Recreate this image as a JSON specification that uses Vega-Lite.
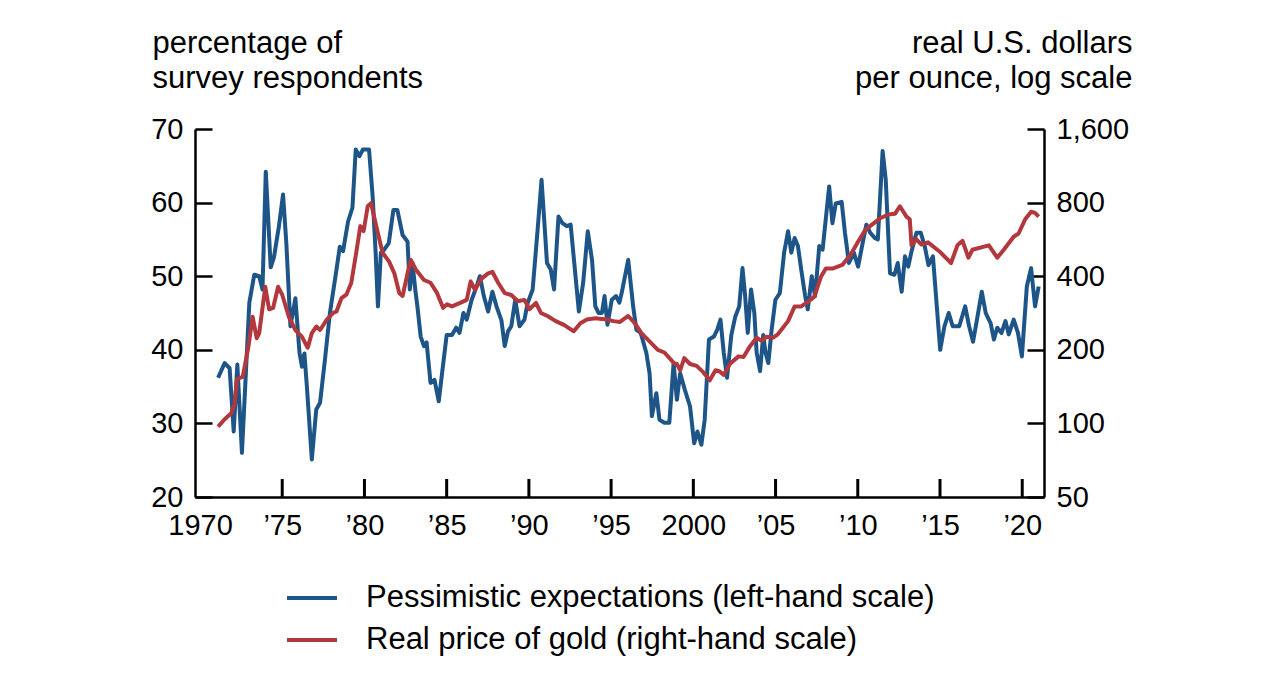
{
  "$schema": "https://vega.github.io/schema/vega-lite/v6.json",
  "width": 849,
  "height": 368,
  "autosize": {"type": "none"},
  "padding": {"left": 195, "top": 129, "right": 217, "bottom": 194},
  "background": "white",
  "config": {
    "font": "Liberation Sans",
    "view": {"stroke": null},
    "axis": {
      "grid": false,
      "domainColor": "black",
      "domainWidth": 2.5,
      "ticks": true,
      "tickColor": "black",
      "tickWidth": 2.5,
      "tickSize": -17,
      "labelFontSize": 29,
      "labelColor": "black",
      "labelFont": "Liberation Sans",
      "titleFont": "Liberation Sans",
      "titleFontSize": 31,
      "titleFontWeight": "normal",
      "titleColor": "black",
      "labelFlush": false,
      "labelOverlap": false
    },
    "legend": {
      "labelFont": "Liberation Sans",
      "labelFontSize": 31,
      "labelColor": "black",
      "labelLimit": 0,
      "symbolType": "stroke",
      "symbolSize": 2500,
      "symbolStrokeWidth": 4,
      "labelOffset": 27,
      "rowPadding": -2,
      "padding": 0
    }
  },
  "datasets": {
    "ticks": [
      {"tick": 1975}, {"tick": 1980}, {"tick": 1985}, {"tick": 1990}, {"tick": 1995},
      {"tick": 2000}, {"tick": 2005}, {"tick": 2010}, {"tick": 2015}, {"tick": 2020}
    ],
    "pessimism": [
      {"year": 1971.1, "pct": 36.2}, {"year": 1971.5, "pct": 38.2}, {"year": 1971.8, "pct": 37.5}, {"year": 1972.05, "pct": 28.9},
      {"year": 1972.27, "pct": 38}, {"year": 1972.55, "pct": 26}, {"year": 1973.0, "pct": 46.4}, {"year": 1973.3, "pct": 50.2},
      {"year": 1973.6, "pct": 50}, {"year": 1973.8, "pct": 48.2}, {"year": 1974.0, "pct": 64.2}, {"year": 1974.3, "pct": 51.2},
      {"year": 1974.5, "pct": 52.6}, {"year": 1974.8, "pct": 56.8}, {"year": 1975.05, "pct": 61.1}, {"year": 1975.25, "pct": 54.5},
      {"year": 1975.5, "pct": 43.2}, {"year": 1975.8, "pct": 47}, {"year": 1976.05, "pct": 39.6}, {"year": 1976.2, "pct": 37.7},
      {"year": 1976.35, "pct": 39.5}, {"year": 1976.5, "pct": 35}, {"year": 1976.8, "pct": 25.1}, {"year": 1977.07, "pct": 31.9},
      {"year": 1977.3, "pct": 32.8}, {"year": 1977.6, "pct": 38.7}, {"year": 1977.9, "pct": 45}, {"year": 1978.3, "pct": 50.9},
      {"year": 1978.5, "pct": 54}, {"year": 1978.7, "pct": 53.4}, {"year": 1979.0, "pct": 57.4}, {"year": 1979.27, "pct": 59.3},
      {"year": 1979.47, "pct": 67.2}, {"year": 1979.7, "pct": 66.3}, {"year": 1979.9, "pct": 67.2}, {"year": 1980.28, "pct": 67.2},
      {"year": 1980.5, "pct": 60.8}, {"year": 1980.68, "pct": 53.2}, {"year": 1980.82, "pct": 45.9}, {"year": 1981.0, "pct": 53.2},
      {"year": 1981.2, "pct": 53.6}, {"year": 1981.48, "pct": 54.5}, {"year": 1981.76, "pct": 59}, {"year": 1982.0, "pct": 59},
      {"year": 1982.32, "pct": 55.6}, {"year": 1982.62, "pct": 54.7}, {"year": 1982.76, "pct": 48.2}, {"year": 1982.92, "pct": 51.8},
      {"year": 1983.1, "pct": 48}, {"year": 1983.22, "pct": 45.9}, {"year": 1983.42, "pct": 41.8}, {"year": 1983.62, "pct": 40.5},
      {"year": 1983.78, "pct": 41}, {"year": 1984.02, "pct": 35.5}, {"year": 1984.26, "pct": 35.9}, {"year": 1984.52, "pct": 33},
      {"year": 1984.72, "pct": 36.8}, {"year": 1985.0, "pct": 42}, {"year": 1985.32, "pct": 42}, {"year": 1985.58, "pct": 43},
      {"year": 1985.78, "pct": 42.3}, {"year": 1986.02, "pct": 45}, {"year": 1986.22, "pct": 44.1}, {"year": 1986.52, "pct": 46.8},
      {"year": 1986.82, "pct": 48.6}, {"year": 1987.02, "pct": 50}, {"year": 1987.26, "pct": 47.3}, {"year": 1987.52, "pct": 45.2},
      {"year": 1987.78, "pct": 47.9}, {"year": 1988.03, "pct": 45.9}, {"year": 1988.33, "pct": 44}, {"year": 1988.53, "pct": 40.5},
      {"year": 1988.73, "pct": 42.5}, {"year": 1988.93, "pct": 43.2}, {"year": 1989.17, "pct": 46.8}, {"year": 1989.43, "pct": 43.2},
      {"year": 1989.73, "pct": 44.1}, {"year": 1989.93, "pct": 46.4}, {"year": 1990.23, "pct": 48.2}, {"year": 1990.53, "pct": 56.3},
      {"year": 1990.77, "pct": 63.1}, {"year": 1990.93, "pct": 57.7}, {"year": 1991.1, "pct": 51.8}, {"year": 1991.33, "pct": 50.9},
      {"year": 1991.53, "pct": 48.2}, {"year": 1991.8, "pct": 58.1}, {"year": 1992.04, "pct": 57.2}, {"year": 1992.3, "pct": 56.8},
      {"year": 1992.54, "pct": 57}, {"year": 1992.78, "pct": 51.3}, {"year": 1993.04, "pct": 45.2}, {"year": 1993.3, "pct": 49.1},
      {"year": 1993.58, "pct": 56.1}, {"year": 1993.84, "pct": 52.2}, {"year": 1994.04, "pct": 45.9}, {"year": 1994.24, "pct": 45},
      {"year": 1994.44, "pct": 45}, {"year": 1994.6, "pct": 47.3}, {"year": 1994.78, "pct": 43.4}, {"year": 1995.04, "pct": 46.8},
      {"year": 1995.3, "pct": 47.3}, {"year": 1995.5, "pct": 46.4}, {"year": 1995.64, "pct": 47.7}, {"year": 1996.04, "pct": 52.2},
      {"year": 1996.34, "pct": 45.9}, {"year": 1996.54, "pct": 42.7}, {"year": 1996.8, "pct": 42.3}, {"year": 1997.14, "pct": 39.6},
      {"year": 1997.34, "pct": 36.8}, {"year": 1997.48, "pct": 31}, {"year": 1997.75, "pct": 34.1}, {"year": 1997.94, "pct": 30.5},
      {"year": 1998.24, "pct": 30.1}, {"year": 1998.54, "pct": 30.1}, {"year": 1998.8, "pct": 38.2}, {"year": 1999.0, "pct": 33.2},
      {"year": 1999.2, "pct": 36.8}, {"year": 1999.48, "pct": 34.6}, {"year": 1999.8, "pct": 32.3}, {"year": 2000.05, "pct": 27.3},
      {"year": 2000.25, "pct": 28.9}, {"year": 2000.49, "pct": 27.1}, {"year": 2000.69, "pct": 30.5}, {"year": 2000.95, "pct": 41.4},
      {"year": 2001.25, "pct": 41.8}, {"year": 2001.45, "pct": 42.7}, {"year": 2001.65, "pct": 44.1}, {"year": 2001.85, "pct": 39.6},
      {"year": 2002.05, "pct": 36.2}, {"year": 2002.31, "pct": 42}, {"year": 2002.55, "pct": 44.5}, {"year": 2002.79, "pct": 45.9},
      {"year": 2002.99, "pct": 51.1}, {"year": 2003.15, "pct": 47.3}, {"year": 2003.31, "pct": 42.3}, {"year": 2003.51, "pct": 48.2},
      {"year": 2003.71, "pct": 45}, {"year": 2003.85, "pct": 39.6}, {"year": 2004.06, "pct": 37.1}, {"year": 2004.25, "pct": 42},
      {"year": 2004.39, "pct": 39.6}, {"year": 2004.56, "pct": 38.2}, {"year": 2004.76, "pct": 42.7}, {"year": 2004.99, "pct": 46.8},
      {"year": 2005.26, "pct": 47.7}, {"year": 2005.52, "pct": 53.2}, {"year": 2005.76, "pct": 56.1}, {"year": 2005.96, "pct": 53.2},
      {"year": 2006.16, "pct": 55.2}, {"year": 2006.36, "pct": 54.1}, {"year": 2006.56, "pct": 50.9}, {"year": 2006.8, "pct": 47.3},
      {"year": 2006.96, "pct": 45.5}, {"year": 2007.2, "pct": 50}, {"year": 2007.4, "pct": 47.3}, {"year": 2007.66, "pct": 54.1},
      {"year": 2007.86, "pct": 53.6}, {"year": 2008.26, "pct": 62.2}, {"year": 2008.46, "pct": 57.2}, {"year": 2008.66, "pct": 59.9},
      {"year": 2009.02, "pct": 60.1}, {"year": 2009.22, "pct": 55.9}, {"year": 2009.46, "pct": 51.8}, {"year": 2009.76, "pct": 53.2},
      {"year": 2010.02, "pct": 51.3}, {"year": 2010.26, "pct": 54.1}, {"year": 2010.52, "pct": 57}, {"year": 2010.76, "pct": 55.9},
      {"year": 2011.03, "pct": 55.2}, {"year": 2011.22, "pct": 55}, {"year": 2011.51, "pct": 67}, {"year": 2011.7, "pct": 63.1},
      {"year": 2011.96, "pct": 50.4}, {"year": 2012.23, "pct": 50.2}, {"year": 2012.43, "pct": 51.8}, {"year": 2012.67, "pct": 47.9},
      {"year": 2012.87, "pct": 52.7}, {"year": 2013.07, "pct": 51.3}, {"year": 2013.27, "pct": 53.4}, {"year": 2013.57, "pct": 55.9},
      {"year": 2013.83, "pct": 55.9}, {"year": 2014.07, "pct": 54.1}, {"year": 2014.3, "pct": 51.5}, {"year": 2014.57, "pct": 52.7},
      {"year": 2015.01, "pct": 40}, {"year": 2015.27, "pct": 43.2}, {"year": 2015.53, "pct": 45}, {"year": 2015.77, "pct": 43.2},
      {"year": 2016.17, "pct": 43.2}, {"year": 2016.53, "pct": 45.9}, {"year": 2016.77, "pct": 43.2}, {"year": 2017.01, "pct": 41.1},
      {"year": 2017.28, "pct": 44.5}, {"year": 2017.54, "pct": 47.9}, {"year": 2017.78, "pct": 45}, {"year": 2018.08, "pct": 43.6},
      {"year": 2018.28, "pct": 41.4}, {"year": 2018.48, "pct": 43}, {"year": 2018.74, "pct": 42.3}, {"year": 2018.98, "pct": 43.9},
      {"year": 2019.18, "pct": 42.1}, {"year": 2019.48, "pct": 44.1}, {"year": 2019.74, "pct": 42.3}, {"year": 2019.98, "pct": 39.1},
      {"year": 2020.28, "pct": 48.6}, {"year": 2020.54, "pct": 51.1}, {"year": 2020.78, "pct": 45.9}, {"year": 2021.0, "pct": 48.6}
    ],
    "gold": [
      {"year": 1971.1, "price": 97}, {"year": 1971.5, "price": 104}, {"year": 1971.9, "price": 110}, {"year": 1972.1, "price": 120},
      {"year": 1972.25, "price": 152}, {"year": 1972.6, "price": 155}, {"year": 1972.95, "price": 207}, {"year": 1973.2, "price": 273},
      {"year": 1973.45, "price": 223}, {"year": 1973.6, "price": 234}, {"year": 1973.97, "price": 362}, {"year": 1974.2, "price": 293},
      {"year": 1974.45, "price": 297}, {"year": 1974.75, "price": 362}, {"year": 1975.0, "price": 336}, {"year": 1975.4, "price": 273},
      {"year": 1975.8, "price": 241}, {"year": 1976.2, "price": 226}, {"year": 1976.55, "price": 204}, {"year": 1976.8, "price": 234},
      {"year": 1977.07, "price": 249}, {"year": 1977.3, "price": 241}, {"year": 1977.7, "price": 265}, {"year": 1978.1, "price": 283},
      {"year": 1978.3, "price": 287}, {"year": 1978.6, "price": 325}, {"year": 1978.9, "price": 336}, {"year": 1979.2, "price": 376},
      {"year": 1979.5, "price": 499}, {"year": 1979.75, "price": 641}, {"year": 1979.95, "price": 612}, {"year": 1980.2, "price": 773},
      {"year": 1980.4, "price": 796}, {"year": 1980.72, "price": 641}, {"year": 1981.1, "price": 499}, {"year": 1981.5, "price": 459},
      {"year": 1981.82, "price": 411}, {"year": 1982.12, "price": 341}, {"year": 1982.32, "price": 332}, {"year": 1982.62, "price": 411},
      {"year": 1982.82, "price": 466}, {"year": 1983.12, "price": 426}, {"year": 1983.62, "price": 386}, {"year": 1984.02, "price": 376},
      {"year": 1984.42, "price": 341}, {"year": 1984.78, "price": 297}, {"year": 1985.02, "price": 307}, {"year": 1985.32, "price": 301},
      {"year": 1985.82, "price": 311}, {"year": 1986.22, "price": 320}, {"year": 1986.46, "price": 381}, {"year": 1986.72, "price": 352},
      {"year": 1987.12, "price": 391}, {"year": 1987.52, "price": 411}, {"year": 1987.78, "price": 417}, {"year": 1988.13, "price": 376},
      {"year": 1988.53, "price": 341}, {"year": 1988.93, "price": 335}, {"year": 1989.33, "price": 316}, {"year": 1989.73, "price": 320},
      {"year": 1990.03, "price": 293}, {"year": 1990.43, "price": 311}, {"year": 1990.73, "price": 283}, {"year": 1991.13, "price": 275},
      {"year": 1991.63, "price": 262}, {"year": 1992.13, "price": 253}, {"year": 1992.73, "price": 238}, {"year": 1993.13, "price": 257},
      {"year": 1993.53, "price": 266}, {"year": 1994.04, "price": 269}, {"year": 1994.74, "price": 266}, {"year": 1995.14, "price": 262},
      {"year": 1995.54, "price": 260}, {"year": 1996.04, "price": 275}, {"year": 1996.44, "price": 257}, {"year": 1996.84, "price": 234},
      {"year": 1997.44, "price": 213}, {"year": 1997.84, "price": 200}, {"year": 1998.24, "price": 195}, {"year": 1998.84, "price": 176},
      {"year": 1999.0, "price": 175}, {"year": 1999.2, "price": 165}, {"year": 1999.45, "price": 185}, {"year": 1999.8, "price": 175},
      {"year": 2000.2, "price": 172}, {"year": 2000.6, "price": 162}, {"year": 2001.0, "price": 150}, {"year": 2001.35, "price": 165},
      {"year": 2001.6, "price": 163}, {"year": 2001.85, "price": 158}, {"year": 2002.25, "price": 176}, {"year": 2002.75, "price": 188},
      {"year": 2003.05, "price": 187}, {"year": 2003.45, "price": 207}, {"year": 2003.85, "price": 224}, {"year": 2004.15, "price": 218},
      {"year": 2004.45, "price": 226}, {"year": 2004.85, "price": 224}, {"year": 2005.15, "price": 232}, {"year": 2005.76, "price": 262},
      {"year": 2006.16, "price": 301}, {"year": 2006.56, "price": 301}, {"year": 2006.96, "price": 314}, {"year": 2007.36, "price": 330},
      {"year": 2007.76, "price": 398}, {"year": 2008.06, "price": 430}, {"year": 2008.46, "price": 430}, {"year": 2009.06, "price": 445},
      {"year": 2009.56, "price": 490}, {"year": 2010.06, "price": 560}, {"year": 2010.46, "price": 619}, {"year": 2010.86, "price": 650},
      {"year": 2011.36, "price": 690}, {"year": 2011.86, "price": 715}, {"year": 2012.26, "price": 720}, {"year": 2012.56, "price": 773},
      {"year": 2012.96, "price": 701}, {"year": 2013.16, "price": 684}, {"year": 2013.27, "price": 535}, {"year": 2013.57, "price": 566},
      {"year": 2013.87, "price": 539}, {"year": 2014.27, "price": 550}, {"year": 2014.97, "price": 505}, {"year": 2015.67, "price": 453},
      {"year": 2016.07, "price": 537}, {"year": 2016.37, "price": 558}, {"year": 2016.73, "price": 476}, {"year": 2016.97, "price": 513},
      {"year": 2017.97, "price": 535}, {"year": 2018.48, "price": 476}, {"year": 2018.88, "price": 513}, {"year": 2019.48, "price": 580},
      {"year": 2019.78, "price": 598}, {"year": 2020.18, "price": 684}, {"year": 2020.54, "price": 734}, {"year": 2020.78, "price": 726},
      {"year": 2021.0, "price": 701}
    ]
  },
  "layer": [
    {
      "data": {"name": "pessimism"},
      "mark": {"type": "line", "strokeWidth": 4, "strokeJoin": "round"},
      "encoding": {
        "x": {
          "field": "year",
          "type": "quantitative",
          "scale": {"domain": [1970, 2021.02], "nice": false, "zero": false},
          "axis": {
            "orient": "bottom",
            "title": null,
            "values": [1970, 1975, 1980, 1985, 1990, 1995, 2000, 2005, 2010, 2015, 2020],
            "labelExpr": "datum.value == 1970 || datum.value == 2000 ? '' + datum.value : '’' + slice('' + datum.value, 2)",
            "ticks": false,
            "labelPadding": 14
          }
        },
        "y": {
          "field": "pct",
          "type": "quantitative",
          "scale": {"domain": [20, 70], "nice": false, "zero": false},
          "axis": {
            "orient": "left",
            "values": [20, 30, 40, 50, 60, 70],
            "labelPadding": 29,
            "title": ["percentage of", "survey respondents"],
            "titleAngle": 0,
            "titleAlign": "left",
            "titleBaseline": "alphabetic",
            "titleX": -43,
            "titleY": -77,
            "titleLineHeight": 35
          }
        },
        "color": {
          "datum": "Pessimistic expectations (left-hand scale)",
          "type": "nominal",
          "scale": {
            "domain": ["Pessimistic expectations (left-hand scale)", "Real price of gold (right-hand scale)"],
            "range": ["#1d5588", "#b3383d"]
          },
          "legend": {"title": null, "orient": "none", "legendX": 90, "legendY": 442, "direction": "vertical"}
        }
      }
    },
    {
      "data": {"name": "gold"},
      "mark": {"type": "line", "strokeWidth": 4, "strokeJoin": "round"},
      "encoding": {
        "x": {"field": "year", "type": "quantitative", "axis": null},
        "y": {
          "field": "price",
          "type": "quantitative",
          "scale": {"type": "log", "domain": [50, 1600], "nice": false},
          "axis": {
            "orient": "right",
            "values": [50, 100, 200, 400, 800, 1600],
            "format": ",",
            "labelPadding": 29,
            "title": ["real U.S. dollars", "per ounce, log scale"],
            "titleAngle": 0,
            "titleAlign": "right",
            "titleBaseline": "alphabetic",
            "titleX": 88,
            "titleY": -77,
            "titleLineHeight": 35
          }
        },
        "color": {"datum": "Real price of gold (right-hand scale)", "type": "nominal"}
      }
    },
    {
      "data": {"name": "ticks"},
      "mark": {"type": "bar", "color": "black", "width": 3, "opacity": 1},
      "encoding": {
        "x": {"field": "tick", "type": "quantitative", "axis": null},
        "y": {"datum": 20, "type": "quantitative", "scale": {"domain": [20, 70], "nice": false, "zero": false}, "axis": null},
        "y2": {"datum": 22.45}
      }
    }
  ],
  "resolve": {"scale": {"y": "independent"}, "axis": {"x": "independent"}}
}
